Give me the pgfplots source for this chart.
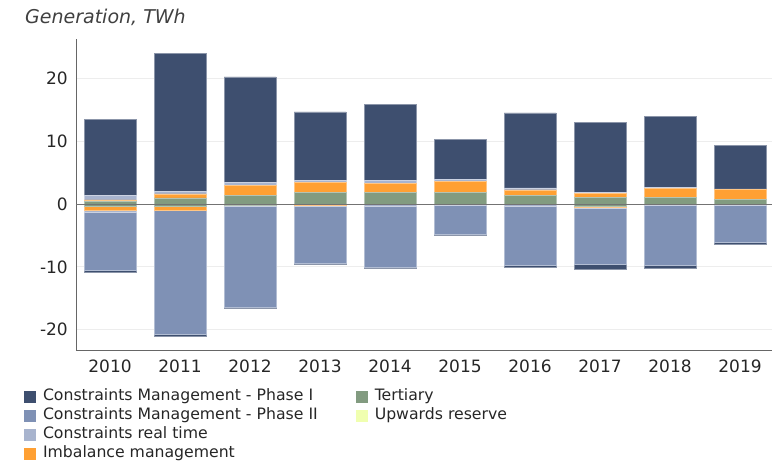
\documentclass[border=0pt]{standalone}
\usepackage{fontspec}
\setmainfont{DejaVu Sans}
\usepackage{pgfplots}
\usepackage{pgfplotstable}
\pgfplotsset{compat=1.18}
\definecolor{cD}{HTML}{3E4F6F}
\definecolor{cII}{HTML}{7F91B5}
\definecolor{cL}{HTML}{A8B4CE}
\definecolor{cO}{HTML}{FFA033}
\definecolor{cG}{HTML}{829B80}
\definecolor{cY}{HTML}{F0FFB0}
% cumulative boundaries of the stacked segments (TWh)
\pgfplotstableread{
x PG PO PL PD NG NO NL NII ND
0 0.40 0.66 1.35 13.50 -0.35 -0.93 -1.25 -10.60 -10.85
1 0.98 1.62 2.04 24.00 -0.29 -0.93 -1.04 -20.80 -21.06
2 1.35 2.95 3.42 20.27 -0.24 -0.24 -0.40 -16.40 -16.60
3 1.83 3.48 3.74 14.70 0.00 -0.25 -0.40 -9.37 -9.63
4 1.83 3.26 3.74 15.90 0.00 0.00 -0.40 -10.00 -10.26
5 1.83 3.58 3.90 10.35 0.00 0.00 -0.24 -4.76 -5.03
6 1.35 2.26 2.57 14.54 0.00 0.00 -0.32 -9.74 -10.10
7 1.09 1.72 1.83 13.00 -0.35 -0.56 -0.66 -9.63 -10.42
8 1.09 2.52 2.68 13.95 0.00 0.00 -0.19 -9.74 -10.26
9 0.72 2.31 2.42 9.39 0.00 0.00 -0.19 -6.03 -6.40
}\data
\pgfplotsset{bb/.style={ybar, bar width=52pt, bar shift=0pt, fill=#1, draw=#1!60!white, line width=0.6pt, forget plot}}
\begin{document}
\begin{tikzpicture}
\useasboundingbox (0,0) rectangle (772pt,464pt);
\node[anchor=west, font=\fontsize{19}{22}\selectfont\itshape, text=black!75, inner sep=0pt] at (25pt,447pt) {Generation, TWh};
\begin{axis}[
  at={(76pt,113.3pt)}, anchor=south west, scale only axis,
  width=696pt, height=311.7pt,
  xmin=-0.486, xmax=9.457, ymin=-23.36, ymax=26.3,
  axis x line*=bottom, axis y line*=left,
  axis line style={-, color=black!60, line width=0.8pt},
  xtick={0,...,9}, xticklabels={2010,2011,2012,2013,2014,2015,2016,2017,2018,2019},
  ytick={-20,-10,0,10,20}, yticklabels={-20,-10,0,10,20},
  major tick length=0pt,
  ymajorgrids, major grid style={color=black!7, line width=0.8pt},
  tick label style={font=\fontsize{17}{20}\selectfont, text=black!85},
  xticklabel style={inner sep=0pt, yshift=-8.5pt, anchor=north},
  yticklabel style={inner sep=0pt, xshift=-8pt, anchor=east},
  legend image code/.code={\fill[#1] (0pt,-6pt) rectangle (12pt,6pt); \path (19pt,0pt);},
  legend cell align=left, legend columns=2,
  legend style={at={(-0.07471,-0.1229)}, anchor=north west, draw=none, fill=none,
    inner sep=0pt, outer sep=0pt, font=\fontsize{15.7}{18}\selectfont, text=black!85,
    row sep=4.1pt, column sep=0pt,
    nodes={inner sep=0pt, text height=11.5pt, text depth=3.5pt},
    /tikz/every even column/.append style={column sep=38pt}},
]
\addplot[bb=cD] table[x=x, y=PD] {\data};
\addplot[bb=cL] table[x=x, y=PL] {\data};
\addplot[bb=cO] table[x=x, y=PO] {\data};
\addplot[bb=cG] table[x=x, y=PG] {\data};
\addplot[bb=cD] table[x=x, y=ND] {\data};
\addplot[bb=cII] table[x=x, y=NII] {\data};
\addplot[bb=cL] table[x=x, y=NL] {\data};
\addplot[bb=cO] table[x=x, y=NO] {\data};
\addplot[bb=cG] table[x=x, y=NG] {\data};
\draw[black!55, line width=1pt] ({rel axis cs:0,0}|-{axis cs:0,0}) -- ({rel axis cs:1,0}|-{axis cs:0,0});
\addlegendimage{fill=cD, draw=none}\addlegendentry{Constraints Management - Phase I}
\addlegendimage{fill=cG, draw=none}\addlegendentry{Tertiary}
\addlegendimage{fill=cII, draw=none}\addlegendentry{Constraints Management - Phase II}
\addlegendimage{fill=cY, draw=none}\addlegendentry{Upwards reserve}
\addlegendimage{fill=cL, draw=none}\addlegendentry{Constraints real time}
\addlegendimage{empty legend}\addlegendentry{}
\addlegendimage{fill=cO, draw=none}\addlegendentry{Imbalance management}
\end{axis}
\end{tikzpicture}
\end{document}
